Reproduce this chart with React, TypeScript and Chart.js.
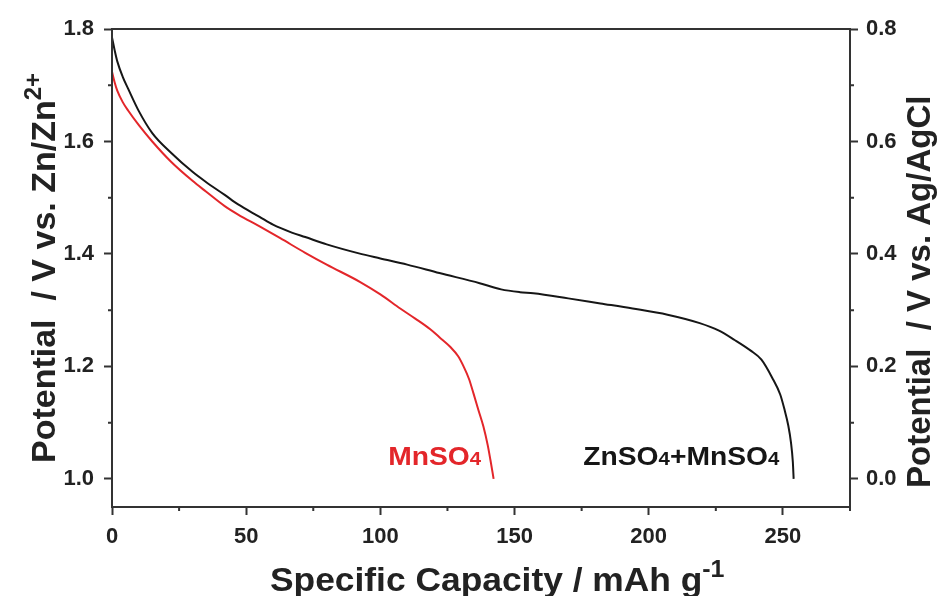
import React, { useEffect, useRef } from "react";
import { Chart, registerables } from "chart.js";

Chart.register(...registerables);

// ZnSO4+MnSO4 (black) discharge curve
const znCapacity = [0, 1, 2, 4, 6, 10, 15, 22, 30, 35, 42, 47, 55, 60, 67, 72, 80, 92, 100, 110, 122, 137, 145, 152, 157, 170, 182, 194, 207, 219, 226, 232, 238, 242, 246, 249, 250.5, 252, 253, 253.7, 254];
const znPotential = [1.785, 1.762, 1.742, 1.715, 1.694, 1.654, 1.615, 1.58, 1.546, 1.528, 1.505, 1.488, 1.466, 1.452, 1.438, 1.43, 1.417, 1.401, 1.392, 1.381, 1.366, 1.348, 1.337, 1.332, 1.33, 1.321, 1.312, 1.303, 1.292, 1.277, 1.264, 1.247, 1.228, 1.212, 1.18, 1.15, 1.125, 1.095, 1.065, 1.03, 1.0];

// MnSO4 (red) discharge curve
const mnCapacity = [0, 1, 2, 4, 6, 10, 15, 22, 30, 35, 42, 47, 55, 62.7, 72, 80, 92.5, 100, 107.4, 113, 118.6, 122, 126, 129, 131, 133, 134.7, 136.5, 138.4, 140, 141, 142.2];
const mnPotential = [1.724, 1.705, 1.69, 1.67, 1.655, 1.629, 1.6, 1.564, 1.53, 1.511, 1.485, 1.47, 1.449, 1.428, 1.402, 1.381, 1.35, 1.328, 1.303, 1.285, 1.266, 1.252, 1.235, 1.218, 1.2, 1.178, 1.152, 1.123, 1.093, 1.06, 1.034, 1.0];

// axis ranges and ticks
const xMin = 0, xMax = 275, xStep = 50, xMinorStep = 25;
const yMin = 0.95, yMax = 1.8, yStep = 0.2;
const refOffset = 1.0; // Ag/AgCl scale = Zn/Zn2+ scale - 1.0

const FONT = "'Liberation Sans', Arial, sans-serif";

type Part = { t: string; mode?: "sup" | "sub" };

// draws left-aligned rich text starting at (x, y) baseline
function drawRich(ctx: CanvasRenderingContext2D, parts: Part[], x: number, y: number, size: number, small: number, color: string) {
  let cx = x;
  ctx.fillStyle = color;
  ctx.textBaseline = "alphabetic";
  ctx.textAlign = "left";
  parts.forEach((p) => {
    ctx.font = `bold ${p.mode ? small : size}px ${FONT}`;
    let dy = 0;
    if (p.mode === "sup") dy = -size * 0.42;
    ctx.fillText(p.t, cx, y + dy);
    cx += ctx.measureText(p.t).width;
  });
  return cx - x;
}

const decorPlugin = {
  id: "decor",
  afterDraw(chart: any) {
    const { ctx, chartArea, scales } = chart;
    const xs = scales.x, yl = scales.y, yr = scales.y2;
    ctx.save();
    // frame
    ctx.strokeStyle = "#333";
    ctx.lineWidth = 2;
    ctx.strokeRect(chartArea.left, chartArea.top, chartArea.right - chartArea.left, chartArea.bottom - chartArea.top);
    // minor ticks
    ctx.beginPath();
    for (let v = xMinorStep; v <= xMax + 1e-9; v += xStep) {
      const px = xs.getPixelForValue(v);
      ctx.moveTo(px, chartArea.bottom);
      ctx.lineTo(px, chartArea.bottom + 4);
    }
    for (let v = 1.1; v < yMax; v += yStep) {
      const py = yl.getPixelForValue(v);
      ctx.moveTo(chartArea.left, py);
      ctx.lineTo(chartArea.left - 4, py);
    }
    for (let v = 0.1; v < yMax - refOffset; v += yStep) {
      const py = yr.getPixelForValue(v);
      ctx.moveTo(chartArea.right, py);
      ctx.lineTo(chartArea.right + 4, py);
    }
    ctx.stroke();

    // in-plot labels (slightly widened glyphs like the reference)
    const stretch = 1.13;
    ctx.save();
    ctx.translate(xs.getPixelForValue(102.9), yl.getPixelForValue(1.025));
    ctx.scale(stretch, 1);
    drawRich(ctx, [{ t: "MnSO" }, { t: "4", mode: "sub" }], 0, 0, 25, 18, "#e3262a");
    ctx.restore();

    ctx.save();
    ctx.translate(xs.getPixelForValue(175.6), yl.getPixelForValue(1.025));
    ctx.scale(stretch, 1);
    drawRich(ctx, [{ t: "ZnSO" }, { t: "4", mode: "sub" }, { t: "+MnSO" }, { t: "4", mode: "sub" }], 0, 0, 25, 18, "#161616");
    ctx.restore();

    // axis titles
    ctx.save();
    ctx.translate(270, 591);
    ctx.scale(1.04, 1);
    drawRich(ctx, [{ t: "Specific Capacity / mAh g" }, { t: "-1", mode: "sup" }], 0, 0, 34, 24, "#222");
    ctx.restore();

    ctx.save();
    ctx.translate(55, 463);
    ctx.rotate(-Math.PI / 2);
    drawRich(ctx, [{ t: "Potential  / V vs. Zn/Zn" }, { t: "2+", mode: "sup" }], 0, 0, 34, 24, "#222");
    ctx.restore();

    ctx.save();
    ctx.translate(930, 488);
    ctx.rotate(-Math.PI / 2);
    drawRich(ctx, [{ t: "Potential  / V vs. Ag/AgCl" }], 0, 0, 33, 24, "#222");
    ctx.restore();

    ctx.restore();
  },
};

export default function App() {
  const ref = useRef<HTMLCanvasElement | null>(null);
  useEffect(() => {
    if (!ref.current) return;
    const tickFont = { family: FONT, size: 22, weight: "bold" as const };
    const grid = { display: true, drawOnChartArea: false, drawTicks: true, tickLength: 8, tickWidth: 2, tickColor: "#333" };
    const border = { display: true, color: "#333", width: 2 };
    const chart = new Chart(ref.current, {
      type: "line",
      data: {
        datasets: [
          {
            label: "ZnSO4+MnSO4",
            data: znCapacity.map((x, i) => ({ x, y: znPotential[i] })),
            borderColor: "#161616",
            borderWidth: 2,
            pointRadius: 0,
            cubicInterpolationMode: "monotone",
            fill: false,
          },
          {
            label: "MnSO4",
            data: mnCapacity.map((x, i) => ({ x, y: mnPotential[i] })),
            borderColor: "#e3262a",
            borderWidth: 2,
            pointRadius: 0,
            cubicInterpolationMode: "monotone",
            fill: false,
          },
        ],
      },
      options: {
        animation: false,
        responsive: true,
        maintainAspectRatio: false,
        layout: { padding: { top: 29, left: 0, right: 0, bottom: 0 } },
        plugins: { legend: { display: false }, tooltip: { enabled: false } },
        scales: {
          x: {
            type: "linear",
            min: xMin,
            max: xMax,
            ticks: { stepSize: xStep, includeBounds: false, font: tickFont, color: "#222", padding: 9, maxRotation: 0 },
            grid,
            border,
            afterFit: (s: any) => { s.height = 89; },
          },
          y: {
            type: "linear",
            position: "left",
            min: yMin,
            max: yMax,
            ticks: { stepSize: yStep, includeBounds: false, font: tickFont, color: "#222", padding: 10, callback: (v: any) => Number(v).toFixed(1) },
            grid,
            border,
            afterFit: (s: any) => { s.width = 112; },
          },
          y2: {
            type: "linear",
            position: "right",
            min: yMin - refOffset,
            max: yMax - refOffset,
            ticks: { stepSize: yStep, includeBounds: false, font: tickFont, color: "#222", padding: 8, callback: (v: any) => Number(v).toFixed(1) },
            grid,
            border,
            afterFit: (s: any) => { s.width = 93; },
          },
        },
      },
      plugins: [decorPlugin],
    });
    return () => chart.destroy();
  }, []);
  return (
    <div style={{ position: "absolute", left: 0, top: 0, width: 943, height: 596, background: "#fff" }}>
      <canvas ref={ref} />
    </div>
  );
}
